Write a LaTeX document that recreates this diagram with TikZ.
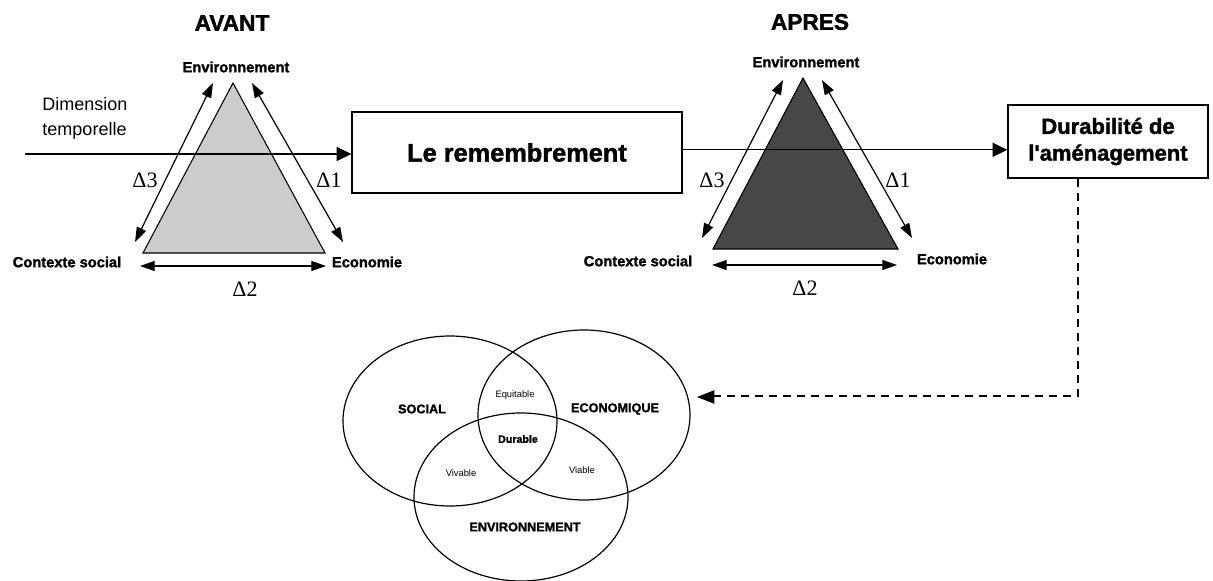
\documentclass[tikz,border=0pt]{standalone}
\usepackage{fontspec}
\setmainfont{Liberation Sans}[BoldFeatures={FakeBold=1.6}]
\newfontfamily\durfont{Liberation Sans}[BoldFeatures={FakeBold=1.6}]
\newfontfamily\deltafont{Liberation Serif}
\usetikzlibrary{arrows.meta,positioning}

\begin{document}
\begin{tikzpicture}[x=0.75pt,y=-0.75pt,
    lbl/.style={font=\bfseries\fontsize{11}{13}\selectfont},
    ttl/.style={font=\bfseries\fontsize{17}{20}\selectfont},
    dlt/.style={font=\deltafont\fontsize{16.5}{18}\selectfont},
    dbl/.style={{Triangle[length=11pt,width=7.5pt]}-{Triangle[length=11pt,width=7.5pt]}, line width=0.9pt},
    flow/.style={-{Triangle[length=11pt,width=10.5pt]}, line width=1pt},
    boxnode/.style={draw, line width=0.9pt, align=center},
    vtitle/.style={font=\bfseries\fontsize{9.5}{11}\selectfont},
    vsmall/.style={font=\fontsize{7}{8}\selectfont},
    venn/.style={line width=0.9pt}]
    \useasboundingbox (0,0) rectangle (1213,581);

    % Triangle AVANT
    \fill[black!20, draw=black, line width=0.8pt] (233,83) -- (143,253) -- (325,253) -- cycle;
    \node[ttl] (avant) at (232,23) {AVANT};
    \node[lbl] (env1) at (236,67) {Environnement};
    \node[lbl] (soc1) at (67,262) {Contexte social};
    \node[lbl] (eco1) at (367,262) {Economie};
    \coordinate (a1) at (213,83);  \coordinate (a2) at (135,242);
    \coordinate (b1) at (252,83);  \coordinate (b2) at (343,242);
    \coordinate (c1) at (140,266); \coordinate (c2) at (326,266);
    \draw[dbl] (a1) -- (a2);
    \draw[dbl] (b1) -- (b2);
    \draw[dbl] (c1) -- (c2);
    \node[dlt] (d3a) at (145,180) {Δ3};
    \node[dlt] (d1a) at (329,180) {Δ1};
    \node[dlt] (d2a) at (245,289) {Δ2};

    % Triangle APRES
    \fill[black!72, draw=black, line width=0.8pt] (803,78) -- (713,249) -- (898,249) -- cycle;
    \node[ttl] (apres) at (810,22) {APRES};
    \node[lbl] (env2) at (806,62) {Environnement};
    \node[lbl] (soc2) at (638,261) {Contexte social};
    \node[lbl] (eco2) at (952,259) {Economie};
    \coordinate (p1) at (783,80);  \coordinate (p2) at (702,238);
    \coordinate (q1) at (822,80);  \coordinate (q2) at (912,238);
    \coordinate (r1) at (712,265); \coordinate (r2) at (897,265);
    \draw[dbl] (p1) -- (p2);
    \draw[dbl] (q1) -- (q2);
    \draw[dbl] (r1) -- (r2);
    \node[dlt] (d3b) at (712,180) {Δ3};
    \node[dlt] (d1b) at (898,180) {Δ1};
    \node[dlt] (d2b) at (805,288) {Δ2};

    % Boxes and time line
    \node[boxnode, minimum width=247.5pt, minimum height=60.75pt,
        font=\bfseries\fontsize{19}{22}\selectfont] (remb) at (517,152.5) {Le remembrement};
    \node[boxnode, line width=1.1pt, minimum width=150pt, minimum height=54.75pt,
        font=\durfont\bfseries\fontsize{16.5}{20}\selectfont] (dur) at (1108,141.5) {Durabilité de\\l'aménagement};
    \node[align=left, font=\fontsize{13.5}{19}\selectfont] (dim) at (85,118.5) {Dimension\\temporelle};
    \coordinate (tstart) at (25,154);
    \draw[flow] (tstart) -- (tstart -| remb.west);
    \draw[flow] ([yshift=2pt]remb.east) -- ([yshift=2pt]remb.east -| dur.west);

    % Dashed link to the Venn diagram
    \coordinate (dcorner) at (1078,396);
    \coordinate (dtip) at (697,397);
    \draw[dashed, dash pattern=on 6pt off 4.5pt, line width=0.8pt] (dur.south -| dcorner) -- (dcorner) -- (dcorner -| 712,0);
    \draw[-{Triangle[length=13pt,width=10pt]}, line width=0.8pt] (712,397) -- (dtip);

    % Venn diagram
    \draw[venn] (450,421) ellipse [x radius=107, y radius=85];
    \draw[venn] (584,415) ellipse [x radius=106, y radius=85];
    \draw[venn] (521,497) ellipse [x radius=107, y radius=84];
    \node[vtitle] (vsoc) at (422,409) {SOCIAL};
    \node[vtitle] (veco) at (615,409) {ECONOMIQUE};
    \node[vtitle] (venv) at (525,527) {ENVIRONNEMENT};
    \node[vsmall] (equi) at (515,395) {Equitable};
    \node[font=\bfseries\fontsize{8}{9}\selectfont] (dura) at (518,439) {Durable};
    \node[vsmall] (viva) at (461,473) {Vivable};
    \node[vsmall] (viab) at (582,470) {Viable};
\end{tikzpicture}
\end{document}
